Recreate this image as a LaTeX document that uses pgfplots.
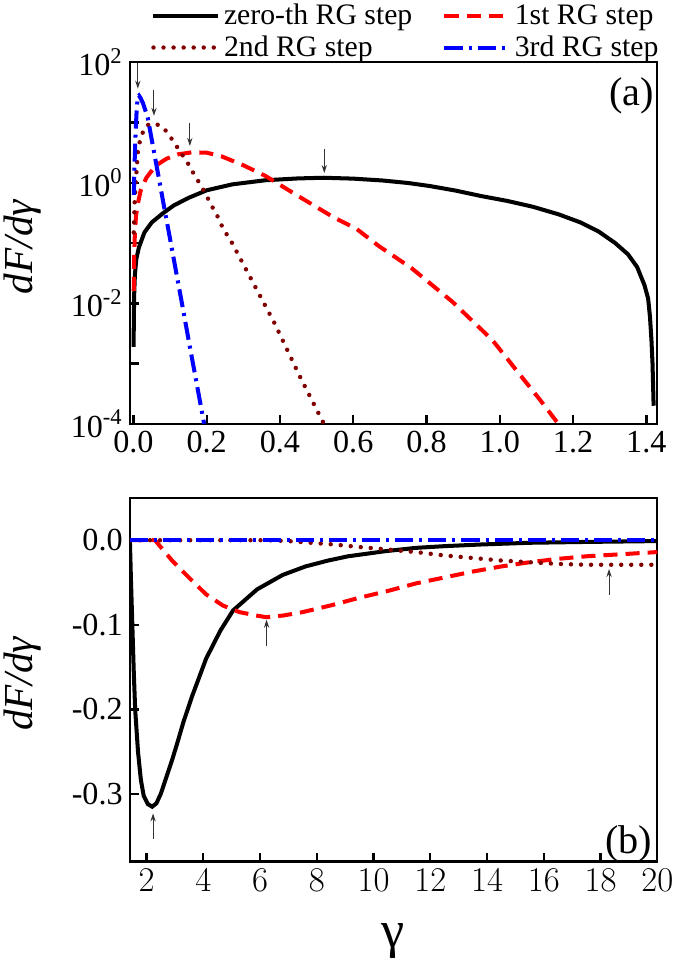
\documentclass[border=0pt]{standalone}
\usepackage{fontspec}
\setmainfont{Liberation Serif}
\usepackage{pgfplots}
\pgfplotsset{compat=1.18}
\usetikzlibrary{arrows.meta}

\definecolor{dkred}{rgb}{0.5,0,0}

\tikzset{tip/.style={-{Stealth[length=4pt,width=2.6pt]}, line width=0.5pt, black!80}}

\pgfplotsset{
  rg0/.style={black, line width=2pt},
  rg1/.style={red, line width=2pt, dash pattern=on 7pt off 4pt},
  rg2/.style={dkred, line width=2.2pt, line cap=round, dash pattern=on 0pt off 5pt},
  rg3/.style={blue, line width=2pt, dash pattern=on 9pt off 3pt on 1.5pt off 3pt},
  panel/.style={
    scale only axis, width=262.5pt,
    axis line style={line width=1.2pt},
    tick style={line width=1.2pt, black},
    major tick length=4.5pt, minor tick length=4.5pt,
    tick align=inside, xtick pos=bottom, ytick pos=left,
    tick label style={font=\fontsize{16}{19}\selectfont},
    ylabel={\textit{dF/dγ}},
    ylabel style={font=\fontsize{20.5}{24}\selectfont, inner sep=2pt,
      at={(axis description cs:-0.203,0.49)}, anchor=center},
  },
}

\begin{document}
\begin{tikzpicture}
\begin{axis}[panel, name=top,
  height=180pt,
  ymode=log, xmin=-0.01, xmax=1.43, ymin=1e-4, ymax=1e2,
  xtick={0,0.2,0.4,0.6,0.8,1.0,1.2,1.4},
  xticklabels={0.0,0.2,0.4,0.6,0.8,1.0,1.2,1.4},
  ytick={1e-4,1e-2,1,1e2},
  yticklabels={10\textsuperscript{-4},10\textsuperscript{-2},10\textsuperscript{0},10\textsuperscript{2}},
  minor ytick={1e-3,1e-1,10},
  legend columns=2, legend cell align=left,
  legend image code/.code={\draw[#1] (0pt,0pt) -- (32pt,0pt);},
  legend style={at={(rel axis cs:0.04,1)}, anchor=south west, yshift=-0.8pt,
    inner sep=0pt, draw=none, fill=none, font=\fontsize{14.8}{16}\selectfont,
    /tikz/every even column/.append style={column sep=13pt}},
]
\addplot[rg0] coordinates {
(0.0005,1.9e-3) (0.001,5e-3) (0.002,1.4e-2) (0.004,3e-2) (0.008,5.5e-2)
(0.015,8.5e-2) (0.03,0.15) (0.05,0.22) (0.08,0.31) (0.11,0.42) (0.15,0.56)
(0.2,0.75) (0.27,0.94) (0.36,1.1) (0.45,1.18) (0.52,1.21) (0.6,1.17)
(0.68,1.09) (0.75,0.99) (0.81,0.88) (0.88,0.74) (0.95,0.60) (1.02,0.50)
(1.09,0.40) (1.16,0.30) (1.22,0.22) (1.27,0.155) (1.315,0.10) (1.35,0.065)
(1.375,0.04) (1.395,0.02) (1.405,0.012) (1.41,6e-3) (1.414,2.5e-3)
(1.417,1e-3) (1.42,2e-4)};
\addlegendentry{zero-th RG step}
\addplot[rg1] coordinates {
(0.0008,0.016) (0.002,0.06) (0.004,0.15) (0.007,0.28) (0.012,0.45)
(0.02,0.75) (0.035,1.2) (0.06,1.9) (0.09,2.5) (0.12,2.95) (0.16,3.2)
(0.2,3.15) (0.24,2.75) (0.3,1.95) (0.36,1.3) (0.45,0.6) (0.545,0.27)
(0.61,0.17) (0.67,0.089) (0.76,0.038) (0.87,0.0107) (0.98,2.45e-3)
(1.06,6e-4) (1.11,2.5e-4) (1.16,1e-4)};
\addlegendentry{1st RG step}
\addplot[rg2] coordinates {
(0.001,0.15) (0.003,0.44) (0.007,1.15) (0.012,3.2) (0.017,4.7) (0.03,8.3)
(0.045,9.5) (0.056,9.6) (0.07,9.0) (0.081,8.3) (0.099,6.0) (0.117,4.1)
(0.15,2.04) (0.168,1.29) (0.186,0.87) (0.2,0.60) (0.214,0.41) (0.232,0.26)
(0.246,0.166) (0.264,0.115) (0.294,0.052) (0.385,4.7e-3) (0.455,6e-4)
(0.52,1e-4)};
\addlegendentry{2nd RG step}
\addplot[rg3] coordinates {
(0.001,0.63) (0.003,2.0) (0.006,7.0) (0.009,17) (0.012,27) (0.015,28)
(0.02,25) (0.026,21) (0.039,12) (0.058,2.8) (0.072,0.98) (0.085,0.36)
(0.099,0.126) (0.117,0.032) (0.136,7.6e-3) (0.154,1.9e-3) (0.172,4.9e-4)
(0.193,1e-4)};
\addlegendentry{3rd RG step}
\draw[tip] (axis cs:0.012,95.5) -- (axis cs:0.012,36.3);
\draw[tip] (axis cs:0.056,33.9) -- (axis cs:0.056,12.9);
\draw[tip] (axis cs:0.154,9.9) -- (axis cs:0.154,4.07);
\draw[tip] (axis cs:0.521,3.63) -- (axis cs:0.521,1.45);
\node[anchor=base east, inner sep=0pt, xshift=-1.5pt, yshift=-21.7pt,
  font=\fontsize{20}{24}\selectfont] at (rel axis cs:1,1) {(a)};
\end{axis}

\begin{axis}[panel,
  at={(top.south west)}, anchor=north west, yshift=-36.85pt,
  height=181pt,
  xmin=1.41, xmax=20, ymin=-0.38, ymax=0.05,
  xtick={2,4,6,8,10,12,14,16,18,20},
  ytick={-0.3,-0.2,-0.1,0},
  yticklabels={-0.3,-0.2,-0.1,0.0},
  xlabel={γ},
  xlabel style={font=\fontsize{26}{30}\selectfont, inner sep=0pt,
    at={(axis description cs:0.5,0)}, yshift=-39.7pt, anchor=center},
]
\addplot[rg0] coordinates {
(1.414,0) (1.45,-0.045) (1.5,-0.10) (1.55,-0.155) (1.6,-0.20) (1.7,-0.25)
(1.8,-0.283) (1.9,-0.302) (2.05,-0.312) (2.2,-0.315) (2.35,-0.311)
(2.5,-0.30) (2.7,-0.28) (2.9,-0.26) (3.1,-0.238) (3.3,-0.215) (3.6,-0.185)
(4.1,-0.14) (4.6,-0.107) (5.05,-0.083) (5.9,-0.058) (6.8,-0.041)
(7.6,-0.031) (8.4,-0.024) (9.1,-0.019) (10.4,-0.013) (11.5,-0.009)
(12.5,-0.007) (13.8,-0.005) (15.5,-0.003) (17.5,-0.002) (20,-0.001)};
\addplot[rg1] coordinates {
(1.414,0) (2.3,0) (2.9,-0.024) (3.49,-0.044) (4.1,-0.064) (4.68,-0.077)
(5.28,-0.085) (5.87,-0.089) (6.22,-0.091) (6.82,-0.089) (7.5,-0.085)
(8.5,-0.077) (9.5,-0.068) (10.5,-0.06) (11.5,-0.051) (12.5,-0.044)
(13.5,-0.037) (14.5,-0.031) (15.5,-0.026) (16.5,-0.022) (17.5,-0.019)
(18.5,-0.017) (19.5,-0.015) (20,-0.014)};
\addplot[rg2] coordinates {
(1.414,0) (6.3,0) (7.0,-0.001) (7.8,-0.003) (8.6,-0.005) (9.5,-0.008)
(10.5,-0.011) (11.5,-0.014) (12.5,-0.018) (13.5,-0.021) (14.5,-0.024)
(15.5,-0.026) (16.5,-0.028) (17.5,-0.029) (18.3,-0.029) (19,-0.029)
(20,-0.029)};
\addplot[rg3] coordinates {(1.414,0) (20,0)};
\draw[tip] (axis cs:2.23,-0.353) -- (axis cs:2.23,-0.323);
\draw[tip] (axis cs:6.23,-0.125) -- (axis cs:6.23,-0.094);
\draw[tip] (axis cs:18.3,-0.065) -- (axis cs:18.3,-0.034);
\node[anchor=base east, inner sep=0pt, xshift=-2.5pt, yshift=4.3pt,
  font=\fontsize{20}{24}\selectfont] at (rel axis cs:1,0) {(b)};
\end{axis}
\end{tikzpicture}
\end{document}
